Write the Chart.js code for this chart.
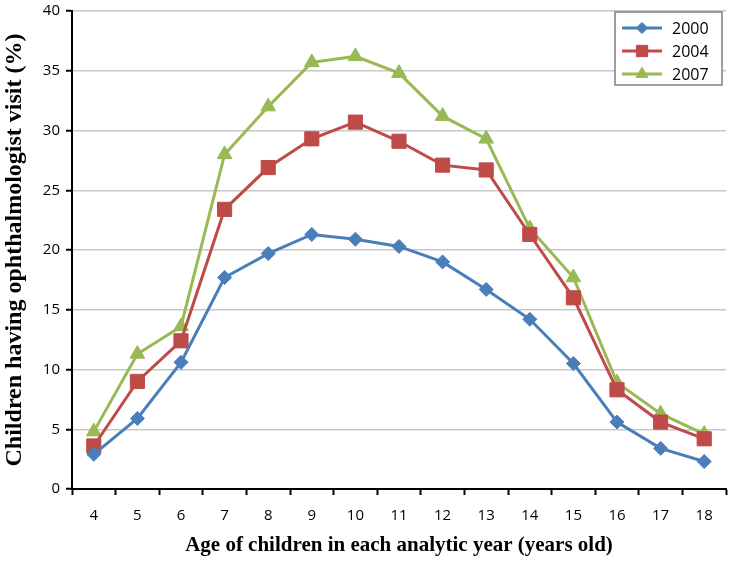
<!DOCTYPE html>
<html>
<head>
<meta charset="utf-8">
<script src="https://cdn.jsdelivr.net/npm/chart.js@4"></script>
<style>
  html, body { margin: 0; padding: 0; background: #fff; }
  #wrap { width: 737px; height: 562px; }
</style>
</head>
<body>
<div id="wrap"><canvas id="grafica"></canvas></div>
<script>
const edades = ["4", "5", "6", "7", "8", "9", "10", "11", "12", "13", "14", "15", "16", "17", "18"];
const anios = ["2000", "2004", "2007"];
const valores2000 = [2.9, 5.9, 10.6, 17.7, 19.7, 21.3, 20.9, 20.3, 19.0, 16.7, 14.2, 10.5, 5.6, 3.4, 2.3];
const valores2004 = [3.6, 9.0, 12.4, 23.4, 26.9, 29.3, 30.7, 29.1, 27.1, 26.7, 21.3, 16.0, 8.3, 5.6, 4.2];
const valores2007 = [4.8, 11.3, 13.6, 28.0, 32.0, 35.7, 36.2, 34.8, 31.2, 29.3, 21.8, 17.7, 8.9, 6.3, 4.6];

const colores = ["#4a7ebb", "#be4b48", "#98b954"];
const marcas = ["rectRot", "rect", "triangle"];
const radios = [7, 10, 8.5];

// leyenda dentro del area, con linea y marcador
const leyendaInterna = {
  id: "leyendaInterna",
  afterDraw(chart) {
    const ctx = chart.ctx;
    const x0 = 615, y0 = 12, w = 107, h = 73;
    ctx.save();
    ctx.fillStyle = "#fff";
    ctx.fillRect(x0, y0, w, h);
    ctx.strokeStyle = "#7f7f7f";
    ctx.lineWidth = 1.5;
    ctx.strokeRect(x0, y0, w, h);
    chart.data.datasets.forEach((ds, i) => {
      const y = y0 + 16 + i * 23;
      ctx.strokeStyle = ds.borderColor;
      ctx.lineWidth = 3;
      ctx.beginPath();
      ctx.moveTo(x0 + 7, y);
      ctx.lineTo(x0 + 47, y);
      ctx.stroke();
      ctx.fillStyle = ds.borderColor;
      ctx.lineWidth = 1;
      Chart.helpers.drawPoint(ctx, {
        pointStyle: ds.pointStyle,
        radius: ds.pointRadius * 0.8,
        borderWidth: 1
      }, x0 + 27, y);
      ctx.fillStyle = "#000";
      ctx.font = "16px 'Open Sans', sans-serif";
      ctx.textBaseline = "middle";
      ctx.fillText(ds.label, x0 + 57, y + 1);
    });
    ctx.restore();
  }
};

const series = [valores2000, valores2004, valores2007];

new Chart(document.getElementById("grafica").getContext("2d"), {
  type: "line",
  data: {
    labels: edades,
    datasets: series.map((v, i) => ({
      label: anios[i],
      data: v,
      borderColor: colores[i],
      backgroundColor: colores[i],
      pointBackgroundColor: colores[i],
      pointBorderColor: colores[i],
      borderWidth: 3,
      pointStyle: marcas[i],
      pointRadius: radios[i],
      pointBorderWidth: 1,
      tension: 0
    }))
  },
  options: {
    responsive: true,
    maintainAspectRatio: false,
    animation: false,
    layout: { padding: { top: 10, right: 4, left: 0, bottom: 0 } },
    plugins: {
      legend: { display: false },
      tooltip: { enabled: false }
    },
    scales: {
      x: {
        offset: true,
        afterFit(scale) {
          scale.height = 73;
          scale.paddingLeft = 0;
          scale.paddingRight = 0;
        },
        grid: {
          offset: true,
          drawOnChartArea: false,
          tickLength: 6,
          tickColor: "#000",
          tickWidth: 2
        },
        border: { color: "#000", width: 2 },
        ticks: {
          color: "#000",
          padding: 12,
          font: { family: "'Open Sans', sans-serif", size: 15 }
        },
        title: {
          display: true,
          text: "Age of children in each analytic year (years old)",
          color: "#000",
          padding: { top: 4, bottom: 4 },
          font: { family: "'Liberation Serif', serif", size: 21, weight: "bold" }
        }
      },
      y: {
        min: 0,
        max: 40,
        afterFit(scale) {
          scale.width = 72;
          scale.paddingTop = 0;
          scale.paddingBottom = 0;
        },
        ticks: {
          stepSize: 5,
          color: "#000",
          padding: 6,
          font: { family: "'Open Sans', sans-serif", size: 15 }
        },
        grid: {
          color: "#c8c8c8",
          lineWidth: 1.5,
          tickLength: 6,
          tickColor: "#000",
          tickWidth: 2
        },
        border: { color: "#000", width: 2 },
        title: {
          display: true,
          text: "Children having ophthalmologist visit (%)",
          color: "#000",
          padding: { top: 0, bottom: 2 },
          font: { family: "'Liberation Serif', serif", size: 24, weight: "bold" }
        }
      }
    }
  },
  plugins: [leyendaInterna]
});
</script>
</body>
</html>
